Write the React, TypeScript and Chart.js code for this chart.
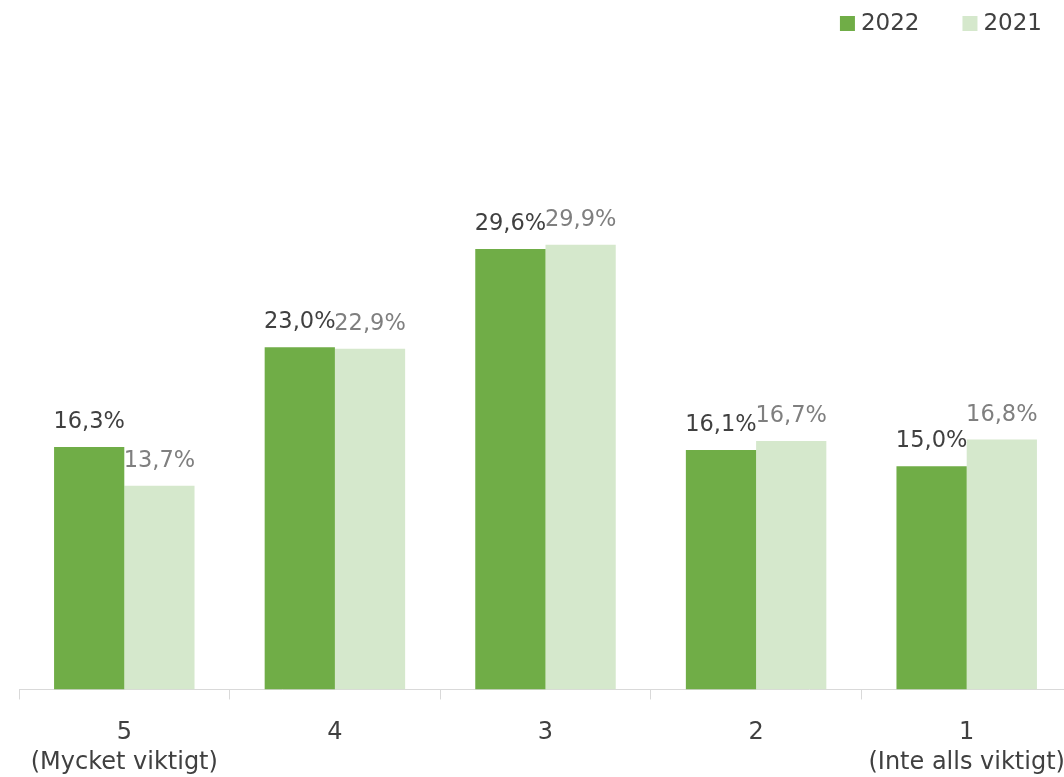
import React, { useEffect, useRef } from "react";
import { Chart, registerables } from "chart.js";

Chart.register(...registerables);

const categories: string[] = ["5", "4", "3", "2", "1"];
const subLabels: string[] = ["(Mycket viktigt)", "", "", "", "(Inte alls viktigt)"];
const seriesNames: string[] = ["2022", "2021"];
const values2022: number[] = [16.3, 23.0, 29.6, 16.1, 15.0];
const values2021: number[] = [13.7, 22.9, 29.9, 16.7, 16.8];
const seriesColors: string[] = ["#70AD47", "#D5E8CC"];
const labelColors: string[] = ["#404040", "#7F7F7F"];

const FONT = "'DejaVu Sans', sans-serif";
const TICK_PAD = 19;

const fmt = (v: number) => v.toFixed(1).replace(".", ",") + "%";

const dataLabelPlugin = {
  id: "dataLabels",
  afterDatasetsDraw(chart: any) {
    const ctx = chart.ctx;
    ctx.save();
    ctx.font = `22.5px ${FONT}`;
    ctx.textAlign = "center";
    ctx.textBaseline = "alphabetic";
    chart.data.datasets.forEach((ds: any, i: number) => {
      const meta = chart.getDatasetMeta(i);
      ctx.fillStyle = labelColors[i];
      meta.data.forEach((bar: any, j: number) => {
        ctx.fillText(fmt(ds.data[j]), bar.x, bar.y - 19);
      });
    });
    ctx.restore();
  },
};

const legendPlugin = {
  id: "customLegend",
  afterDraw(chart: any) {
    const ctx = chart.ctx;
    ctx.save();
    ctx.font = `23px ${FONT}`;
    ctx.textBaseline = "middle";
    ctx.textAlign = "left";
    const ds = chart.data.datasets;
    let right = 1042;
    const yMid = 24;
    for (let i = ds.length - 1; i >= 0; i--) {
      const w = ctx.measureText(ds[i].label).width;
      const tx = right - w;
      ctx.fillStyle = "#404040";
      ctx.fillText(ds[i].label, tx, yMid);
      const bx = tx - 6 - 15;
      ctx.fillStyle = ds[i].backgroundColor;
      ctx.fillRect(bx, yMid - 8, 15, 15);
      right = bx - 43;
    }
    ctx.restore();
  },
};

export default function App() {
  const ref = useRef<HTMLCanvasElement | null>(null);
  useEffect(() => {
    if (!ref.current) return;
    const labels = categories.map((c, i) => (subLabels[i] ? [c, subLabels[i]] : c));
    const chart = new Chart(ref.current, {
      type: "bar",
      data: {
        labels,
        datasets: [
          { label: seriesNames[0], data: values2022, backgroundColor: seriesColors[0] },
          { label: seriesNames[1], data: values2021, backgroundColor: seriesColors[1] },
        ],
      },
      options: {
        responsive: false,
        animation: false,
        layout: { padding: { left: 19, right: 2, top: 20, bottom: 0 } },
        datasets: { bar: { categoryPercentage: 0.667, barPercentage: 1.0 } },
        plugins: { legend: { display: false }, tooltip: { enabled: false } },
        scales: {
          x: {
            grid: {
              drawOnChartArea: false,
              drawTicks: true,
              tickLength: 10,
              color: "#D9D9D9",
              offset: true,
            },
            border: { color: "#D9D9D9", width: 1 },
            ticks: {
              color: "#404040",
              font: { family: FONT, size: 24, lineHeight: 1.22 },
              padding: TICK_PAD,
              maxRotation: 0,
              autoSkip: false,
            },
            afterFit: (scale: any) => {
              scale.height -= TICK_PAD;
              scale.paddingRight = 0;
              scale.paddingLeft = 0;
            },
          },
          y: {
            display: false,
            min: 0,
            max: 45,
          },
        },
      },
      plugins: [dataLabelPlugin, legendPlugin],
    } as any);
    return () => chart.destroy();
  }, []);
  return (
    <div
      style={{
        position: "fixed",
        left: 0,
        top: 0,
        width: 1064,
        height: 777,
        overflow: "hidden",
        background: "#fff",
      }}
    >
      <canvas ref={ref} width={1074} height={777} style={{ display: "block" }} />
    </div>
  );
}
